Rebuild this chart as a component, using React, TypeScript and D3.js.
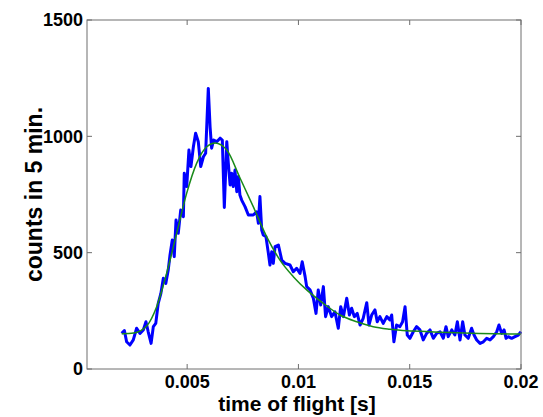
import React from 'react';
import * as d3 from 'd3';

// measured counts (blue)
const tofTimes = [
  0.00206, 0.00218, 0.00228, 0.00243, 0.00258, 0.00273, 0.00288, 0.00303, 0.00315, 0.00325,
  0.00338, 0.00348, 0.00359, 0.0037, 0.00382, 0.00393, 0.00404, 0.00415, 0.00423, 0.00433,
  0.00442, 0.0045, 0.0046, 0.00471, 0.00483, 0.00487, 0.00498, 0.00508, 0.00517, 0.00528,
  0.00538, 0.0055, 0.00561, 0.00573, 0.00583, 0.00595, 0.00603, 0.0061, 0.00619, 0.00633,
  0.00648, 0.00658, 0.00667, 0.00678, 0.00685, 0.00693, 0.007, 0.00707, 0.00715, 0.00723,
  0.0073, 0.00737, 0.00745, 0.0076, 0.00775, 0.00797, 0.00812, 0.0082, 0.00827, 0.00835,
  0.00842, 0.00854, 0.00865, 0.00872, 0.0088, 0.00887, 0.00895, 0.0091, 0.00925, 0.0094,
  0.00962, 0.00977, 0.00992, 0.01007, 0.01017, 0.0103, 0.01037, 0.01052, 0.01067, 0.01079,
  0.01089, 0.011, 0.01112, 0.01122, 0.01134, 0.01149, 0.01164, 0.01179, 0.0119, 0.01202,
  0.01217, 0.01229, 0.01239, 0.01251, 0.01264, 0.01277, 0.01291, 0.01307, 0.01317, 0.01329,
  0.01344, 0.01354, 0.01366, 0.01381, 0.01397, 0.01411, 0.01419, 0.01429, 0.01441, 0.01456,
  0.01468, 0.01479, 0.01489, 0.01501, 0.01516, 0.01531, 0.01546, 0.01561, 0.01576, 0.01591,
  0.01606, 0.01621, 0.01636, 0.01651, 0.01663, 0.01673, 0.01689, 0.01703, 0.01714, 0.01726,
  0.01738, 0.01748, 0.01763, 0.01778, 0.01789, 0.01801, 0.01816, 0.01831, 0.01846, 0.01861,
  0.01876, 0.01891, 0.01901, 0.01913, 0.01924, 0.01933, 0.01943, 0.01958, 0.01973, 0.01988,
  0.02,
];
const counts = [
  153, 165, 117, 103, 125, 175, 153, 168, 203, 160,
  110, 182, 196, 282, 325, 390, 368, 426, 490, 554,
  483, 640, 583, 683, 655, 841, 784, 941, 870, 955,
  1013, 977, 870, 912, 927, 1206, 1041, 949, 984, 977,
  992, 984, 694, 977, 884, 791, 841, 784, 855, 762,
  827, 748, 726, 698, 662, 662, 676, 626, 741, 597,
  576, 569, 497, 447, 504, 454, 526, 533, 468, 454,
  447, 418, 433, 411, 461, 397, 354, 340, 304, 239,
  340, 275, 354, 225, 268, 225, 246, 175, 268, 225,
  304, 232, 261, 225, 239, 189, 218, 285, 189, 232,
  254, 203, 225, 196, 225, 211, 232, 117, 189, 182,
  203, 268, 146, 132, 160, 182, 168, 125, 153, 168,
  132, 153, 160, 132, 182, 139, 168, 146, 203, 125,
  203, 146, 132, 175, 146, 125, 110, 117, 132, 125,
  139, 160, 189, 153, 168, 132, 139, 132, 139, 146,
  160,
];

// fitted curve (green)
const fitTimes = [
  0.00206, 0.0026, 0.00318, 0.00363, 0.00408, 0.00453, 0.00498, 0.00543, 0.00588, 0.00625,
  0.00678, 0.00737, 0.00797, 0.00857, 0.00917, 0.00977, 0.01037, 0.01112, 0.01187, 0.01262,
  0.01336, 0.01411, 0.01591, 0.01816, 0.02,
];
const fitCounts = [
  152, 155, 185, 268, 412, 584, 756, 885, 955, 971,
  941, 822, 698, 569, 468, 397, 340, 282, 232, 203,
  182, 171, 160, 153, 150,
];

const xTicks = [0.005, 0.01, 0.015, 0.02];
const xTickLabels = ['0.005', '0.01', '0.015', '0.02'];
const yTicks = [0, 500, 1000, 1500];
const yTickLabels = ['0', '500', '1000', '1500'];

const W = 543;
const H = 417;
const m = { left: 87, right: 22, top: 20, bottom: 48 };
const FONT = 'Liberation Sans, Arial, sans-serif';
const AXIS = '#6e6e6e';

export default function App() {
  const x = d3.scaleLinear().domain([0.0005, 0.02]).range([m.left, W - m.right]);
  const y = d3.scaleLinear().domain([0, 1500]).range([H - m.bottom, m.top]);
  const [x0, x1] = x.range();
  const [y0, y1] = y.range();

  const blue = d3.line<number>()
    .x((_, i) => x(tofTimes[i]))
    .y(d => y(d))(counts) || '';
  const green = d3.line<number>()
    .x((_, i) => x(fitTimes[i]))
    .y(d => y(d))
    .curve(d3.curveMonotoneX)(fitCounts) || '';

  return (
    <svg width={W} height={H} style={{ position: 'absolute', left: 0, top: 0, background: '#fff' }}
      fontFamily={FONT} fontWeight="bold">
      <path d={blue} fill="none" stroke="#0000ff" strokeWidth={3} strokeLinejoin="round" />
      <path d={green} fill="none" stroke="#1a8a1a" strokeWidth={1.5} />

      {/* box */}
      <rect x={x0} y={y1} width={x1 - x0} height={y0 - y1} fill="none" stroke={AXIS} strokeWidth={1} />

      {xTicks.map((t, i) => (
        <g key={'x' + t}>
          <line x1={x(t)} x2={x(t)} y1={y0} y2={y0 - 5} stroke={AXIS} />
          <line x1={x(t)} x2={x(t)} y1={y1} y2={y1 + 5} stroke={AXIS} />
          <text x={x(t)} y={y0 + 19} textAnchor="middle" fontSize={18}>{xTickLabels[i]}</text>
        </g>
      ))}
      {yTicks.map((v, i) => (
        <g key={'y' + v}>
          <line x1={x0} x2={x0 + 5} y1={y(v)} y2={y(v)} stroke={AXIS} />
          <line x1={x1} x2={x1 - 5} y1={y(v)} y2={y(v)} stroke={AXIS} />
          <text x={x0 - 4} y={y(v)} dy="0.36em" textAnchor="end" fontSize={18}>{yTickLabels[i]}</text>
        </g>
      ))}

      <text x={297} y={411} textAnchor="middle" fontSize={21}>time of flight [s]</text>
      <text transform={`translate(42,${(y0 + y1) / 2}) rotate(-90)`} textAnchor="middle" fontSize={23}>
        counts in 5 min.
      </text>
    </svg>
  );
}
